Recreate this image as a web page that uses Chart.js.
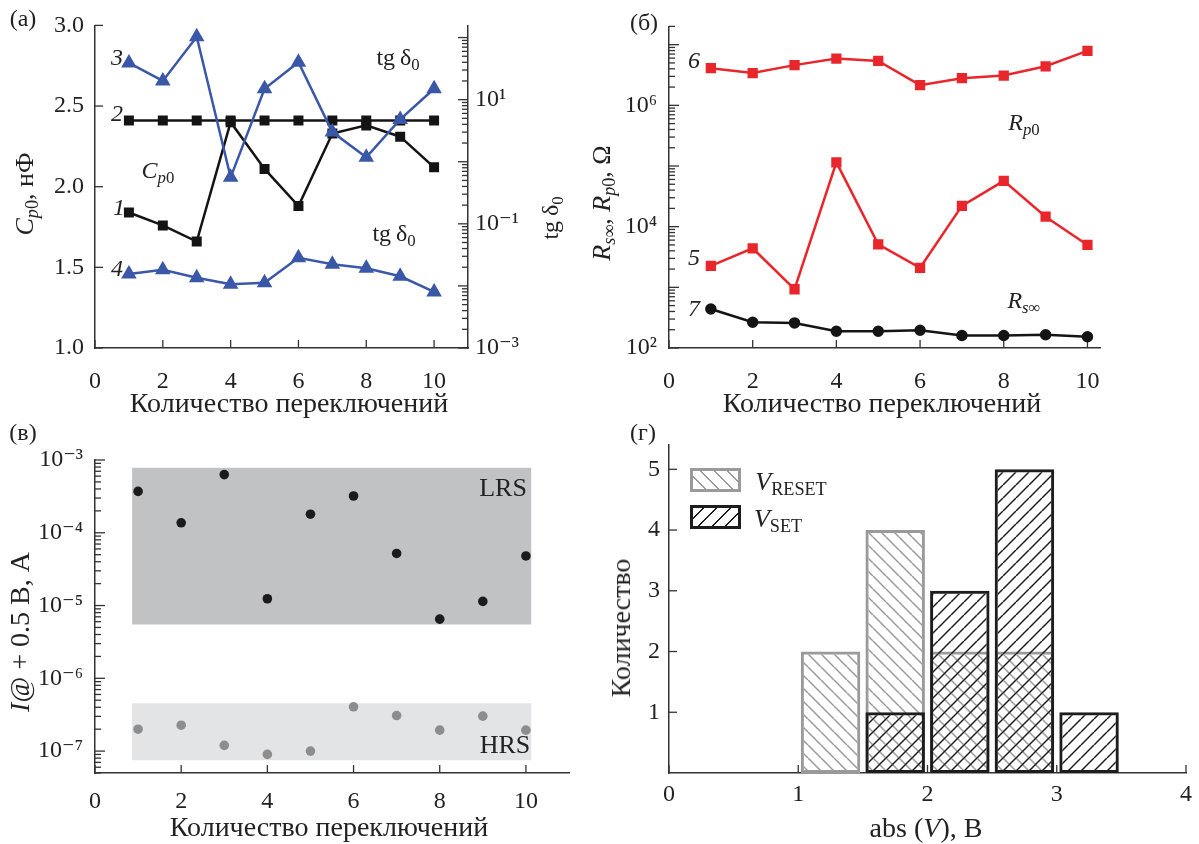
<!DOCTYPE html>
<html>
<head>
<meta charset="utf-8">
<script src="https://cdn.jsdelivr.net/npm/chart.js@4.4.1/dist/chart.umd.min.js"></script>
<style>
  body { margin: 0; background: #fff; }
  #fig { position: relative; width: 1199px; height: 844px; overflow: hidden;
         font-family: "Liberation Serif", "DejaVu Serif", serif; font-size: 24px; color: #222; }
  .pane { position: absolute; }
  .t { position: absolute; transform: translate(-50%, -50%); white-space: nowrap; line-height: 1; }
  .rot { transform: translate(-50%, -50%) rotate(-90deg); }
  .big { font-size: 28px; }
  .mid { font-size: 26px; }
  sub { font-size: 70%; vertical-align: -0.28em; line-height: 0; }
  .sw { position: absolute; width: 45px; height: 18px; border: 3px solid; }
</style>
</head>
<body>
<div id="fig">
  <div class="pane" style="left:0;top:0;width:600px;height:420px"><canvas id="chartA"></canvas></div>
  <div class="pane" style="left:600px;top:0;width:599px;height:420px"><canvas id="chartB"></canvas></div>
  <div class="pane" style="left:0;top:420px;width:600px;height:424px"><canvas id="chartC"></canvas></div>
  <div class="pane" style="left:600px;top:420px;width:599px;height:424px"><canvas id="chartD"></canvas></div>

  <!-- (а) -->
  <div class="t" style="left:23px;top:18px">(а)</div>
  <div class="t" style="left:117px;top:57px"><i>3</i></div>
  <div class="t" style="left:117px;top:113px"><i>2</i></div>
  <div class="t" style="left:119px;top:207px"><i>1</i></div>
  <div class="t" style="left:117px;top:268px"><i>4</i></div>
  <div class="t" style="left:158px;top:170px"><i>C</i><sub><i>p</i>0</sub></div>
  <div class="t" style="left:398px;top:57px">tg&thinsp;δ<sub>0</sub></div>
  <div class="t" style="left:394px;top:233px">tg&thinsp;δ<sub>0</sub></div>
  <div class="t rot mid" style="left:25px;top:194px"><i>C</i><sub><i>p</i>0</sub>, нФ</div>
  <div class="t rot" style="left:550px;top:218px">tg&thinsp;δ<sub>0</sub></div>
  <div class="t big" style="left:289px;top:403px">Количество переключений</div>

  <!-- (б) -->
  <div class="t" style="left:644px;top:22px">(б)</div>
  <div class="t" style="left:694px;top:60px"><i>6</i></div>
  <div class="t" style="left:694px;top:257px"><i>5</i></div>
  <div class="t" style="left:694px;top:308px"><i>7</i></div>
  <div class="t" style="left:1024px;top:122px"><i>R</i><sub><i>p</i>0</sub></div>
  <div class="t" style="left:1024px;top:300px"><i>R</i><sub><i>s</i>∞</sub></div>
  <div class="t rot mid" style="left:602px;top:203px"><i>R</i><sub><i>s</i>∞</sub>, <i>R</i><sub><i>p</i>0</sub>, Ω</div>
  <div class="t big" style="left:882px;top:403px">Количество переключений</div>

  <!-- (в) -->
  <div class="t" style="left:23px;top:432px">(в)</div>
  <div class="t mid" style="left:503px;top:488px">LRS</div>
  <div class="t mid" style="left:505px;top:745px">HRS</div>
  <div class="t rot big" style="left:20px;top:632px"><i>I</i>@ + 0.5 В, А</div>
  <div class="t big" style="left:329px;top:827px">Количество переключений</div>

  <!-- (г) -->
  <div class="t" style="left:643px;top:432px">(г)</div>
  <div class="sw" style="left:690px;top:468px;border-color:#9a9a9a;background:repeating-linear-gradient(45deg,transparent 0 8px,#9a9a9a 8px 9.5px)"></div>
  <div class="sw" style="left:690px;top:505px;border-color:#1d1d1d;background:repeating-linear-gradient(-45deg,transparent 0 8px,#1d1d1d 8px 9.5px)"></div>
  <div class="t mid" style="left:791px;top:482px"><i>V</i><sub>RESET</sub></div>
  <div class="t mid" style="left:778px;top:519px"><i>V</i><sub>SET</sub></div>
  <div class="t rot big" style="left:621px;top:628px">Количество</div>
  <div class="t big" style="left:926px;top:828px">abs (<i>V</i>), В</div>
</div>

<script>
// данные
const switches = [1, 2, 3, 4, 5, 6, 7, 8, 9, 10];

// (а) C_p0, нФ и tg δ0
const cp0_1 = [1.84, 1.76, 1.66, 2.40, 2.11, 1.88, 2.33, 2.38, 2.31, 2.12];
const cp0_2 = [2.41, 2.41, 2.41, 2.41, 2.41, 2.41, 2.41, 2.41, 2.41, 2.41];
const tg_3 = [39, 20, 103, 0.56, 15, 40, 3.0, 1.18, 4.8, 15];
const tg_4 = [0.0156, 0.0182, 0.0135, 0.0106, 0.0112, 0.0284, 0.0223, 0.0193, 0.0143, 0.0080];

// (б) R, Ω
const r_6 = [4.1e6, 3.4e6, 4.6e6, 5.9e6, 5.4e6, 2.15e6, 2.8e6, 3.1e6, 4.4e6, 7.9e6];
const r_5 = [2250, 4400, 930, 1.15e5, 5100, 2100, 2.2e4, 5.7e4, 1.46e4, 5000];
const r_7 = [440, 266, 259, 189, 189, 196, 161, 161, 165, 153];

// (в) I@+0.5 В, А
const lrs = [3.7e-4, 1.37e-4, 6.3e-4, 1.24e-5, 1.8e-4, 3.2e-4, 5.2e-5, 6.5e-6, 1.14e-5, 4.8e-5];
const hrs = [2.0e-7, 2.27e-7, 1.2e-7, 9.0e-8, 1.0e-7, 4.06e-7, 3.08e-7, 1.94e-7, 3.02e-7, 1.94e-7];
const bandX = [0.86, 10.13];
const lrsBand = [5.5e-6, 7.8e-4];
const hrsBand = [7.5e-8, 4.55e-7];

// (г) гистограмма
const bins = [1.25, 1.75, 2.25, 2.75, 3.25];
const vReset = [2, 4, 2, 2, 0];
const vSet = [0, 1, 3, 5, 1];

// оси
const tickX = [0, 2, 4, 6, 8, 10];
const tickX4 = [0, 1, 2, 3, 4];
const expA = [-3, -1, 1];
const expB = [2, 4, 6];
const expC = [-7, -6, -5, -4, -3];

const AXIS = '#333';
const BLUE = '#3a58a7', RED = '#e8262b', BLACK = '#141414';

Chart.defaults.font.family = '"Liberation Serif", "DejaVu Serif", serif';
Chart.defaults.font.size = 24;
Chart.defaults.color = '#222';
Chart.defaults.animation = false;
Chart.defaults.plugins.legend.display = false;
Chart.defaults.plugins.tooltip.enabled = false;

const xy = (xs, ys) => xs.map((x, i) => ({ x: x, y: ys[i] }));

const SUP = { '-': '⁻', '0': '⁰', '1': '¹', '2': '²', '3': '³', '4': '⁴', '5': '⁵', '6': '⁶', '7': '⁷', '8': '⁸', '9': '⁹' };
function logLabel(v, shown) {
  const l = Math.log10(v), e = Math.round(l);
  if (Math.abs(l - e) > 1e-6 || shown.indexOf(e) < 0) return '';
  return '10' + String(e).split('').map(c => SUP[c]).join('');
}
function logTicks(min, max) {
  const out = [];
  for (let e = Math.floor(Math.log10(min)); e <= Math.ceil(Math.log10(max)); e++) {
    for (let m = 1; m < 10; m++) {
      const v = m * Math.pow(10, e);
      if (v >= min * 0.999 && v <= max * 1.001) out.push({ value: v });
    }
  }
  return out;
}

// ось X
function xAxis(max, ticks, h, pad) {
  return {
    type: 'linear', min: 0, max: max, offset: false,
    grid: { display: false, drawTicks: false, offset: false },
    border: { color: AXIS, width: 1.5 },
    afterBuildTicks: s => { s.ticks = ticks.map(v => ({ value: v })); },
    ticks: { autoSkip: false, maxRotation: 0, padding: pad },
    afterFit: s => { s.height = h; }
  };
}
function linAxis(pos, min, max, ticks, w, pad, fmt) {
  return {
    type: 'linear', position: pos, min: min, max: max,
    grid: { display: false, drawTicks: false },
    border: { color: AXIS, width: 1.5 },
    afterBuildTicks: s => { s.ticks = ticks.map(v => ({ value: v })); },
    ticks: { autoSkip: false, padding: pad, callback: fmt },
    afterFit: s => { s.width = w; }
  };
}
function logAxis(pos, min, max, shown, w, pad) {
  return {
    type: 'logarithmic', position: pos, min: min, max: max,
    grid: { display: false, drawTicks: false },
    border: { color: AXIS, width: 1.5 },
    afterBuildTicks: s => { s.ticks = logTicks(min, max); },
    ticks: { autoSkip: false, padding: pad, callback: v => logLabel(v, shown) },
    afterFit: s => { s.width = w; }
  };
}

// засечки внутрь
const inTicks = {
  id: 'inTicks',
  beforeDatasetsDraw(chart) {
    const ctx = chart.ctx, a = chart.chartArea;
    ctx.save();
    ctx.strokeStyle = AXIS;
    ctx.lineWidth = 1.3;
    Object.values(chart.scales).forEach(s => {
      s.ticks.forEach(t => {
        let len = 8;
        if (s.type === 'logarithmic') {
          const l = Math.log10(t.value);
          len = Math.abs(l - Math.round(l)) < 1e-6 ? 10 : 6;
        }
        const p = s.getPixelForValue(t.value);
        ctx.beginPath();
        if (s.axis === 'x') { ctx.moveTo(p, a.bottom); ctx.lineTo(p, a.bottom - len); }
        else if (s.position === 'left') { ctx.moveTo(a.left, p); ctx.lineTo(a.left + len, p); }
        else { ctx.moveTo(a.right, p); ctx.lineTo(a.right - len, p); }
        ctx.stroke();
      });
    });
    ctx.restore();
  }
};

function hatch(color, dir) {
  const c = document.createElement('canvas');
  c.width = 13; c.height = 13;
  const g = c.getContext('2d');
  g.strokeStyle = color;
  g.lineWidth = 1.5;
  for (const x0 of [-13, 0, 13]) {
    g.beginPath();
    if (dir === '/') { g.moveTo(x0, 13); g.lineTo(x0 + 13, 0); }
    else { g.moveTo(x0, 0); g.lineTo(x0 + 13, 13); }
    g.stroke();
  }
  return g.createPattern(c, 'repeat');
}

const base = {
  responsive: true,
  maintainAspectRatio: false
};

// (а)
new Chart(document.getElementById('chartA'), {
  type: 'line',
  data: {
    datasets: [
      { data: xy(switches, tg_3), yAxisID: 'y2', borderColor: BLUE, backgroundColor: BLUE,
        borderWidth: 2.5, pointStyle: 'triangle', pointRadius: 6.5 },
      { data: xy(switches, tg_4), yAxisID: 'y2', borderColor: BLUE, backgroundColor: BLUE,
        borderWidth: 2.5, pointStyle: 'triangle', pointRadius: 6.5 },
      { data: xy(switches, cp0_2), yAxisID: 'y', borderColor: BLACK, backgroundColor: BLACK,
        borderWidth: 2.5, pointStyle: 'rect', pointRadius: 5.3 },
      { data: xy(switches, cp0_1), yAxisID: 'y', borderColor: BLACK, backgroundColor: BLACK,
        borderWidth: 2.5, pointStyle: 'rect', pointRadius: 5.3 }
    ]
  },
  options: Object.assign({}, base, {
    layout: { padding: { top: 18, left: 0, right: 0, bottom: 0 } },
    scales: {
      x: xAxis(11, tickX, 72, 19),
      y: linAxis('left', 1, 3, [1, 1.5, 2, 2.5, 3], 95, 11, v => v.toFixed(1)),
      y2: logAxis('right', 1e-3, 157, expA, 132, 7)
    }
  }),
  plugins: [inTicks]
});

// (б)
new Chart(document.getElementById('chartB'), {
  type: 'line',
  data: {
    datasets: [
      { data: xy(switches, r_6), borderColor: RED, backgroundColor: RED,
        borderWidth: 2.5, pointStyle: 'rect', pointRadius: 5.5 },
      { data: xy(switches, r_5), borderColor: RED, backgroundColor: RED,
        borderWidth: 2.5, pointStyle: 'rect', pointRadius: 5.5 },
      { data: xy(switches, r_7), borderColor: BLACK, backgroundColor: BLACK,
        borderWidth: 2.5, pointStyle: 'circle', pointRadius: 4.5 }
    ]
  },
  options: Object.assign({}, base, {
    layout: { padding: { top: 16, left: 0, right: 99, bottom: 0 } },
    scales: {
      x: xAxis(10.3, tickX, 72, 19),
      y: logAxis('left', 100, 2e7, expB, 69, 12)
    }
  }),
  plugins: [inTicks]
});

// (в)
new Chart(document.getElementById('chartC'), {
  type: 'line',
  data: {
    datasets: [
      { data: xy(switches, lrs), showLine: false, backgroundColor: '#1b1b1b', borderWidth: 0, pointRadius: 4.8 },
      { data: xy(switches, hrs), showLine: false, backgroundColor: '#8d8d8d', borderWidth: 0, pointRadius: 4.8 },
      { data: xy(bandX, [lrsBand[1], lrsBand[1]]), fill: { value: lrsBand[0] },
        backgroundColor: '#c1c2c4', borderWidth: 0, pointRadius: 0 },
      { data: xy(bandX, [hrsBand[1], hrsBand[1]]), fill: { value: hrsBand[0] },
        backgroundColor: '#e3e4e6', borderWidth: 0, pointRadius: 0 }
    ]
  },
  options: Object.assign({}, base, {
    layout: { padding: { top: 40, left: 0, right: 31, bottom: 0 } },
    scales: {
      x: xAxis(11, tickX, 71, 14),
      y: logAxis('left', 5e-8, 1e-3, expC, 95, 12)
    }
  }),
  plugins: [inTicks]
});

// (г)
new Chart(document.getElementById('chartD'), {
  type: 'bar',
  data: {
    datasets: [
      { data: xy(bins, vSet), backgroundColor: hatch('#1d1d1d', '/'), borderColor: '#1d1d1d',
        borderWidth: 3, borderSkipped: false, grouped: false, barPercentage: 0.92, categoryPercentage: 1 },
      { data: xy(bins, vReset), backgroundColor: hatch('#9a9a9a', '\\'), borderColor: '#9a9a9a',
        borderWidth: 3, borderSkipped: false, grouped: false, barPercentage: 0.92, categoryPercentage: 1 }
    ]
  },
  options: Object.assign({}, base, {
    layout: { padding: { top: 25, left: 0, right: 12, bottom: 0 } },
    scales: {
      x: xAxis(4, tickX4, 71, 7),
      y: linAxis('left', 0, 5.4, [1, 2, 3, 4, 5], 69, 9, v => String(v))
    }
  }),
  plugins: [inTicks]
});
</script>
</body>
</html>
